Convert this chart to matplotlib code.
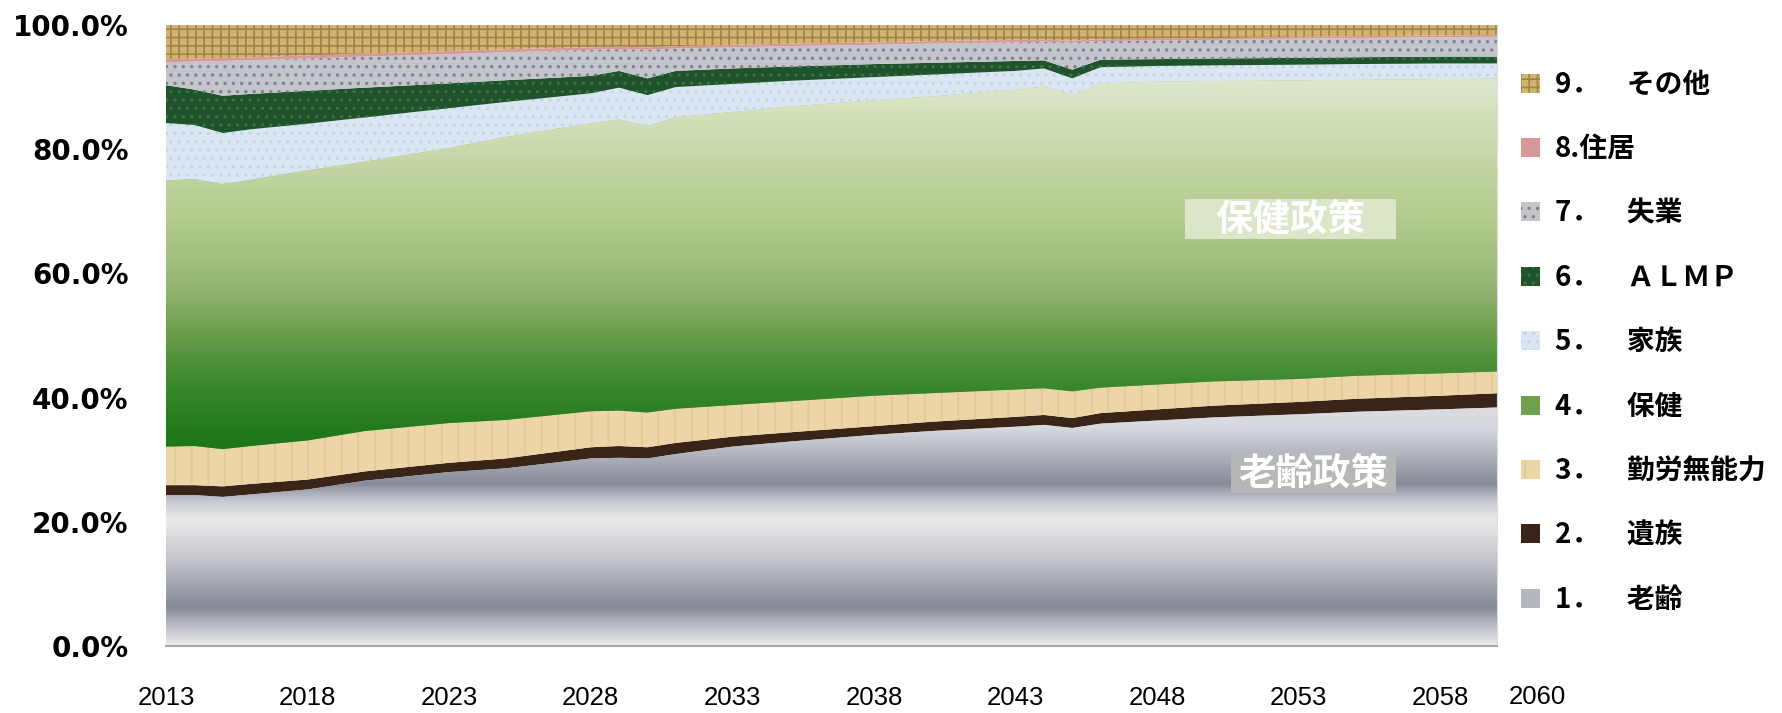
import numpy as np
import matplotlib
matplotlib.use("Agg")
import matplotlib.pyplot as plt
from matplotlib.colors import LinearSegmentedColormap
from matplotlib.patches import Rectangle

# ----------------------------------------------------------------------
# data : share of social expenditure by function (%)
# ----------------------------------------------------------------------
years = [2013, 2014, 2015, 2016, 2018, 2020, 2023, 2025, 2028, 2029, 2030, 2031, 2033,
         2035, 2038, 2040, 2043, 2044, 2045, 2046, 2048, 2050, 2053, 2055, 2058, 2060]

old_age     = [24.3, 24.3, 24.0, 24.4, 25.2, 26.6, 28.0, 28.6, 30.2, 30.3, 30.2, 30.9, 32.1,
               32.9, 34.0, 34.6, 35.3, 35.6, 35.1, 35.8, 36.3, 36.8, 37.3, 37.7, 38.1, 38.4]
survivors   = [1.6, 1.6, 1.7, 1.7, 1.6, 1.5, 1.5, 1.6, 1.8, 1.9, 1.8, 1.8, 1.6,
               1.5, 1.4, 1.5, 1.6, 1.6, 1.6, 1.7, 1.8, 1.9, 2.0, 2.1, 2.2, 2.3]
incapacity  = [6.2, 6.3, 6.0, 6.1, 6.3, 6.5, 6.4, 6.2, 5.8, 5.7, 5.6, 5.5, 5.1,
               5.0, 4.9, 4.6, 4.4, 4.3, 4.3, 4.1, 4.0, 3.9, 3.7, 3.7, 3.6, 3.5]
health      = [42.9, 43.0, 42.7, 42.9, 43.5, 43.4, 44.3, 45.6, 46.4, 46.9, 46.1, 47.0, 47.2,
               47.5, 47.6, 47.8, 48.3, 48.6, 47.7, 49.0, 48.8, 48.4, 48.1, 47.7, 47.4, 47.2]
family      = [9.2, 8.7, 8.2, 8.1, 7.5, 7.1, 6.4, 5.6, 4.8, 5.1, 5.0, 4.8, 4.5,
               4.1, 3.7, 3.5, 3.0, 2.9, 2.7, 2.6, 2.5, 2.5, 2.5, 2.5, 2.5, 2.4]
almp        = [6.1, 5.7, 6.0, 5.7, 5.3, 4.8, 4.0, 3.5, 2.8, 2.7, 2.7, 2.6, 2.5,
               2.3, 2.1, 1.9, 1.6, 1.3, 1.4, 1.2, 1.1, 1.1, 1.1, 1.1, 1.1, 1.1]
unemploy    = [3.7, 4.5, 5.6, 5.4, 5.2, 5.0, 4.7, 4.5, 4.2, 3.5, 4.6, 3.6, 3.4,
               3.3, 3.1, 3.1, 3.0, 3.0, 4.4, 3.0, 3.0, 3.0, 3.1, 3.1, 3.1, 3.2]
housing     = [0.5, 0.5, 0.5, 0.5, 0.5, 0.5, 0.5, 0.5, 0.4, 0.4, 0.4, 0.4, 0.4,
               0.4, 0.4, 0.4, 0.4, 0.3, 0.3, 0.3, 0.3, 0.3, 0.3, 0.3, 0.3, 0.3]
other       = [5.5, 5.4, 5.3, 5.2, 4.9, 4.6, 4.2, 3.9, 3.6, 3.5, 3.6, 3.4, 3.2,
               3.0, 2.8, 2.6, 2.4, 2.4, 2.5, 2.3, 2.2, 2.1, 1.9, 1.8, 1.7, 1.6]

labels = ["1．　老齢", "2．　遺族", "3．　勤労無能力", "4．　保健", "5．　家族",
          "6．　ＡＬＭＰ", "7．　失業", "8.住居", "9．　その他"]

x_ticks = [2013, 2018, 2023, 2028, 2033, 2038, 2043, 2048, 2053, 2058]

# ----------------------------------------------------------------------
# styles (picture fills in the original -> gradients / hatches here)
# ----------------------------------------------------------------------
styles = [
    dict(fc="#b4b7c0", hatch=None, hc="none"),        # old age (gradient)
    dict(fc="#3a2317", hatch=None, hc="none"),        # survivors
    dict(fc="#ecd5a6", hatch="|", hc="#e2c893"),      # incapacity
    dict(fc="#6fa04c", hatch=None, hc="none"),        # health (gradient)
    dict(fc="#dbe6f3", hatch="..", hc="#c7d5e9"),     # family
    dict(fc="#1f532b", hatch="..", hc="#3a7446"),     # ALMP
    dict(fc="#c3c5cb", hatch="..", hc="#7f828d"),     # unemployment
    dict(fc="#d89898", hatch=None, hc="none"),        # housing
    dict(fc="#d2b36f", hatch="++", hc="#a0834a"),     # other
]

grey_cmap = LinearSegmentedColormap.from_list("grey", [
    (0.00, "#e8e8ea"), (0.025, "#c3c5cb"), (0.06, "#868a98"), (0.10, "#a5a8b2"),
    (0.14, "#c5c7cc"), (0.20, "#ebebeb"), (0.23, "#c9ccd2"), (0.26, "#878b99"),
    (0.315, "#b8bbc4"), (0.35, "#d8dae0"), (0.40, "#dcdde3"), (1.00, "#dcdde3")])

green_cmap = LinearSegmentedColormap.from_list("green", [
    (0.00, "#1b7316"), (0.30, "#1b7316"), (0.35, "#237a1c"), (0.43, "#3f8a30"),
    (0.50, "#6a9c4a"), (0.585, "#97b877"), (0.69, "#b3cb8e"), (0.80, "#c9d9ab"),
    (0.92, "#dfe8cf"), (1.00, "#e3ebd5")])

plt.rcParams['hatch.linewidth'] = 1.2

fig = plt.figure(figsize=(17.83, 7.13), dpi=100)
ax = fig.add_axes([0.0931, 0.094, 0.7465, 0.871])

series = [old_age, survivors, incapacity, health, family, almp, unemploy, housing, other]
data = np.array(series, dtype=float)
data = data / data.sum(axis=0) * 100          # 100% stacked
tops = np.cumsum(data, axis=0)
bottoms = tops - data

grad = np.linspace(0, 1, 400).reshape(-1, 1)

for i, st in enumerate(styles):
    poly = ax.fill_between(years, bottoms[i], tops[i], facecolor=st["fc"],
                           edgecolor=st["hc"], hatch=st["hatch"], linewidth=0, zorder=2)
    if i in (0, 3):
        cmap = grey_cmap if i == 0 else green_cmap
        im = ax.imshow(grad, extent=[2013, 2060, 0, 100], origin="lower", aspect="auto",
                       cmap=cmap, interpolation="bicubic", zorder=2.5)
        im.set_clip_path(poly.get_paths()[0], transform=ax.transData)

ax.set_xlim(2013, 2060)
ax.set_ylim(0, 100)

ax.set_yticks([0, 20, 40, 60, 80, 100])
ax.set_yticklabels([f"{v:.1f}%" for v in [0, 20, 40, 60, 80, 100]],
                   fontsize=20, fontweight="bold", family="DejaVu Sans")
ax.set_xticks(x_ticks)
ax.set_xticklabels([str(y) for y in x_ticks], fontsize=18.5, family="Liberation Sans")
ax.tick_params(axis="y", length=0, pad=27)
ax.tick_params(axis="x", length=0, pad=29)
ax.annotate("2060", xy=(2060, 0), xytext=(29, -28), textcoords="offset points",
            ha="center", va="top", fontsize=18.5, family="Liberation Sans",
            annotation_clip=False)

for side in ["top", "left"]:
    ax.spines[side].set_visible(False)
ax.spines["bottom"].set_color("#a6a6a6")
ax.spines["bottom"].set_linewidth(1.5)
ax.spines["right"].set_color("#dddddd")

# in-chart labels on plain boxes
ax.add_patch(Rectangle((2048.98, 65.5), 7.45, 6.5, facecolor="#dbe6c9",
                       edgecolor="none", zorder=4))
ax.text(2052.7, 68.75, "保健政策", ha="center", va="center", color="white",
        fontsize=27, fontweight="bold", family="Noto Sans CJK JP", zorder=5)
ax.add_patch(Rectangle((2050.6, 24.6), 5.83, 6.5, facecolor="#b7b7b7",
                       edgecolor="none", zorder=4))
ax.text(2053.5, 27.85, "老齢政策", ha="center", va="center", color="white",
        fontsize=27, fontweight="bold", family="Noto Sans CJK JP", zorder=5)

# legend (9 at the top)
handles = []
for st in styles:
    handles.append(Rectangle((0, 0), 1, 1, facecolor=st["fc"], edgecolor=st["hc"],
                             hatch=st["hatch"], linewidth=0))
leg = fig.legend(handles[::-1], labels[::-1], loc="upper left",
                 bbox_to_anchor=(1507 / 1783, 1 - 57 / 713), frameon=False,
                 prop=dict(family="Noto Sans CJK JP", weight="bold", size=20),
                 handlelength=0.68, handleheight=0.68, handletextpad=0.55,
                 labelspacing=1.31, borderpad=0)

fig.savefig("out.png", dpi=100, facecolor="white")
